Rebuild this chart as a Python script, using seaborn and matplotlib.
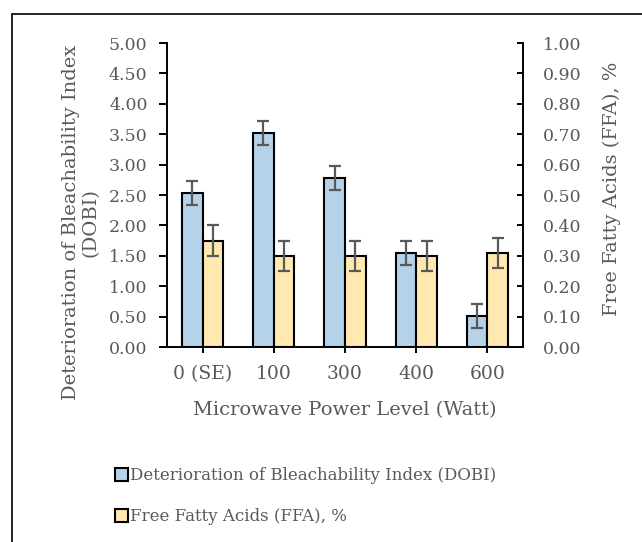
import matplotlib
matplotlib.use("Agg")
import matplotlib.pyplot as plt
import seaborn as sns
import pandas as pd
import numpy as np
from matplotlib.patches import Patch
from matplotlib.lines import Line2D

categories = ["0 (SE)", "100", "300", "400", "600"]
dobi = [2.53, 3.52, 2.78, 1.55, 0.51]
dobi_err = [0.20, 0.20, 0.20, 0.20, 0.20]
ffa = [0.35, 0.30, 0.30, 0.30, 0.31]
ffa_err = [0.05, 0.05, 0.05, 0.05, 0.05]
series = ["Deterioration of Bleachability Index (DOBI)", "Free Fatty Acids (FFA), %"]
left_ticks = [0.0, 0.5, 1.0, 1.5, 2.0, 2.5, 3.0, 3.5, 4.0, 4.5, 5.0]
right_ticks = [0.0, 0.1, 0.2, 0.3, 0.4, 0.5, 0.6, 0.7, 0.8, 0.9, 1.0]

sns.set_theme(style="white")
plt.rcParams["font.family"] = ["DejaVu Serif"]
TXT = "#595959"
BLUE = "#b4d3eb"
YEL = "#ffe9b0"

df_dobi = pd.DataFrame({"Power": categories, "val": dobi, "series": series[0]})
df_ffa = pd.DataFrame({"Power": categories, "val": ffa, "series": series[1]})

fig = plt.figure(figsize=(6.42, 5.42), dpi=100)
ax = fig.add_axes([167 / 642, 1 - 347 / 542, 356 / 642, 304 / 542])
ax2 = ax.twinx()

pal = {series[0]: BLUE, series[1]: YEL}
sns.barplot(data=df_dobi, x="Power", y="val", hue="series", hue_order=series,
            order=categories, palette=pal, saturation=1, width=0.58, dodge=True,
            ax=ax, edgecolor="black", linewidth=1.5, legend=False, errorbar=None)
sns.barplot(data=df_ffa, x="Power", y="val", hue="series", hue_order=series,
            order=categories, palette=pal, saturation=1, width=0.58, dodge=True,
            ax=ax2, edgecolor="black", linewidth=1.5, legend=False, errorbar=None)

for axis, vals, errs in ((ax, dobi, dobi_err), (ax2, ffa, ffa_err)):
    bars = [p for p in axis.patches if p.get_height() > 0]
    xs = [p.get_x() + p.get_width() / 2 for p in bars]
    axis.errorbar(xs, vals, yerr=errs, fmt="none", ecolor="#595959",
                  elinewidth=1.6, capsize=4.3, capthick=1.6, zorder=5)

ax.set_ylim(0, 5)
ax2.set_ylim(0, 1)
ax.set_xlim(-0.5, 4.5)
ax.set_yticks(left_ticks)
ax.set_yticklabels([f"{v:.2f}" for v in left_ticks])
ax2.set_yticks(right_ticks)
ax2.set_yticklabels([f"{v:.2f}" for v in right_ticks])

for a in (ax, ax2):
    for s in a.spines.values():
        s.set_visible(False)
    a.grid(False)
ax.spines["left"].set_visible(True)
ax.spines["bottom"].set_visible(True)
ax2.spines["right"].set_visible(True)
for s in (ax.spines["left"], ax.spines["bottom"], ax2.spines["right"]):
    s.set_color("black")
    s.set_linewidth(1.4)

ax.tick_params(axis="y", direction="out", length=6, width=1.4, color="black",
               labelsize=12.5, labelcolor=TXT, left=True, pad=8)
ax.tick_params(axis="x", direction="out", length=4, width=1.4, color="black",
               labelsize=13.5, labelcolor=TXT, bottom=True, pad=9)
ax2.tick_params(axis="y", direction="in", length=4.5, width=1.4, color="black",
                labelsize=12.5, labelcolor=TXT, right=True, pad=14)

ax.set_xlabel("Microwave Power Level (Watt)", fontsize=14, color=TXT)
ax.xaxis.set_label_coords(0.5, -0.178)
ax.set_ylabel("Deterioration of Bleachability Index\n(DOBI)", fontsize=14,
              color=TXT, linespacing=1.1)
ax.yaxis.set_label_coords(-0.19, 0.41)
ax2.set_ylabel("Free Fatty Acids (FFA), %", fontsize=14, color=TXT)
ax2.yaxis.set_label_coords(1.225, 0.52)

handles = [Patch(facecolor=BLUE, edgecolor="black", linewidth=1.5),
           Patch(facecolor=YEL, edgecolor="black", linewidth=1.5)]
fig.legend(handles, series, loc="lower left", bbox_to_anchor=(0.155, 0.003),
           frameon=False, fontsize=12, labelcolor=TXT, handlelength=0.78,
           handleheight=0.78, handletextpad=0.15, labelspacing=1.45)

fig.add_artist(Line2D([12 / 642, 12 / 642], [0, 1 - 14 / 542], color="black",
                      linewidth=1.2, transform=fig.transFigure))
fig.add_artist(Line2D([12 / 642, 1], [1 - 14 / 542, 1 - 14 / 542], color="black",
                      linewidth=1.2, transform=fig.transFigure))

fig.savefig("out.png", dpi=100)
